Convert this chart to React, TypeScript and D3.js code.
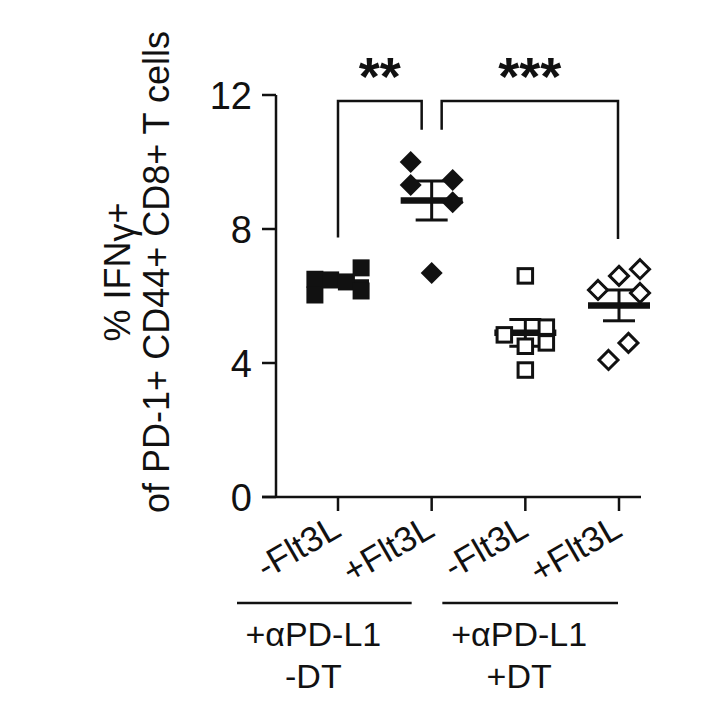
import React from "react";
import * as d3 from "d3";

// ---- data ----
const categories = ["-Flt3L a", "+Flt3L a", "-Flt3L b", "+Flt3L b"];
const tickLabels = ["-Flt3L", "+Flt3L", "-Flt3L", "+Flt3L"];
const g1Values = [6.5, 6.03, 6.48, 6.42, 6.84, 6.15];
const g2Values = [10.0, 9.31, 9.46, 8.8, 6.69];
const g3Values = [6.6, 4.84, 5.07, 4.6, 4.5, 3.79];
const g4Values = [6.18, 6.6, 6.8, 6.09, 4.6, 4.09];
const g1Slots = [-1.1, -1.1, -0.35, 0.4, 1.1, 1.1];
const g2Slots = [-1, -1, 1, 1, 0];
const g3Slots = [0, -1, 1, 1, 0, 0];
const g4Slots = [-1, 0, 1, 1, 0.45, -0.5];
const means = [6.4, 8.85, 4.9, 5.72];
const sems = [0.12, 0.58, 0.4, 0.46];
const yTicks = [0, 4, 8, 12];
const groupLabelsTop = ["+\u03B1PD-L1", "+\u03B1PD-L1"];
const groupLabelsBottom = ["-DT", "+DT"];
const sigLabels = ["**", "***"];
const sigBar = [11.82, 11.82];
const sigLegLeft = [7.75, 10.96];
const sigLegRight = [10.96, 7.7];
const gamma = "\u03B3";

const FONT = "'Liberation Sans', Arial, Helvetica, sans-serif";

export default function App() {
  const W = 717, H = 720;
  const y = d3.scaleLinear().domain([0, 12]).range([497, 95]);
  const x = d3.scalePoint<string>().domain(categories).range([338, 619]);
  const axisX = 276;
  const slotW = 21;

  const groups = [
    { values: g1Values, slots: g1Slots, shape: "square", filled: true },
    { values: g2Values, slots: g2Slots, shape: "diamond", filled: true },
    { values: g3Values, slots: g3Slots, shape: "square", filled: false },
    { values: g4Values, slots: g4Slots, shape: "diamond", filled: false },
  ];

  const marker = (shape: string, filled: boolean, cx: number, cy: number, key: string) => {
    if (shape === "square") {
      const s = filled ? 17 : 14.5;
      return (
        <rect key={key} x={cx - s / 2} y={cy - s / 2} width={s} height={s}
          fill={filled ? "#111" : "#fff"} stroke={filled ? "none" : "#111"} strokeWidth={3} />
      );
    }
    const r = filled ? 11 : 9.5;
    const pts = [[cx, cy - r], [cx + r, cy], [cx, cy + r], [cx - r, cy]].map(p => p.join(",")).join(" ");
    return (
      <polygon key={key} points={pts} fill={filled ? "#111" : "#fff"}
        stroke={filled ? "none" : "#111"} strokeWidth={3} strokeLinejoin="miter" />
    );
  };

  const cats = categories;
  const brackets = [
    { x1: x(cats[0])!, x2: x(cats[1])! - 10 },
    { x1: x(cats[1])! + 10, x2: x(cats[3])! - 1 },
  ];
  const pairLines = [
    { x1: x(cats[0])! - 101, x2: x(cats[1])! - 20 },
    { x1: x(cats[2])! - 83, x2: x(cats[3])! - 1 },
  ];

  return (
    <svg width={W} height={H} viewBox={`0 0 ${W} ${H}`}
      style={{ position: "absolute", left: 0, top: 0, background: "#fff" }}
      fontFamily={FONT}>
      <rect width={W} height={H} fill="#fff" />
      {/* y axis */}
      <line x1={axisX} x2={axisX} y1={y(12)} y2={y(0)} stroke="#111" strokeWidth={2.5} />
      {yTicks.map(t => (
        <g key={t}>
          <line x1={axisX - 14} x2={axisX} y1={y(t)} y2={y(t)} stroke="#111" strokeWidth={2.5} />
          <text x={252} y={y(t)} dy="0.36em" textAnchor="end" fontSize={38} fill="#111">{t}</text>
        </g>
      ))}
      {/* x axis */}
      <line x1={axisX - 14} x2={641} y1={y(0)} y2={y(0)} stroke="#111" strokeWidth={2.5} />
      {cats.map((c, i) => (
        <g key={c}>
          <line x1={x(c)!} x2={x(c)!} y1={y(0)} y2={y(0) + 14} stroke="#111" strokeWidth={2.5} />
          <text transform={`translate(${x(c)! + 5},${y(0) + 38}) rotate(-30)`} textAnchor="end"
            fontSize={35} fill="#111">{tickLabels[i]}</text>
        </g>
      ))}
      {/* y title */}
      <text transform={`translate(130,272) rotate(-90)`} textAnchor="middle" fontSize={36} fill="#111">
        % IFN<tspan dy="4">{gamma}</tspan><tspan dy="-4">+</tspan>
      </text>
      <text transform={`translate(169,272) rotate(-90)`} textAnchor="middle" fontSize={36} fill="#111">
        of PD-1+ CD44+ CD8+ T cells
      </text>
      {/* mean & sem */}
      {groups.map((g, i) => {
        const cx = x(cats[i])!;
        return (
          <g key={"m" + i}>
            <line x1={cx} x2={cx} y1={y(means[i] + sems[i])} y2={y(means[i] - sems[i])} stroke="#111" strokeWidth={3} />
            <line x1={cx - 16} x2={cx + 16} y1={y(means[i] + sems[i])} y2={y(means[i] + sems[i])} stroke="#111" strokeWidth={3} />
            <line x1={cx - 16} x2={cx + 16} y1={y(means[i] - sems[i])} y2={y(means[i] - sems[i])} stroke="#111" strokeWidth={3} />
            <line x1={cx - 31} x2={cx + 31} y1={y(means[i])} y2={y(means[i])} stroke="#111" strokeWidth={6.5} />
          </g>
        );
      })}
      {/* points */}
      {groups.map((g, i) => {
        const cx = x(cats[i])!;
        return (
          <g key={"p" + i}>
            {g.values.map((v, j) => marker(g.shape, g.filled, cx + g.slots[j] * slotW, y(v), `${i}-${j}`))}
          </g>
        );
      })}
      {/* significance */}
      {brackets.map((b, i) => (
        <g key={"s" + i}>
          <path d={`M${b.x1},${y(sigLegLeft[i])} V${y(sigBar[i])} H${b.x2} V${y(sigLegRight[i])}`}
            fill="none" stroke="#111" strokeWidth={2.5} />
          <text x={(b.x1 + b.x2) / 2} y={95} textAnchor="middle" fontSize={54} fontWeight="bold" fill="#111">
            {sigLabels[i]}
          </text>
        </g>
      ))}
      {/* group lines and labels */}
      {pairLines.map((p, i) => (
        <g key={"gl" + i}>
          <line x1={p.x1} x2={p.x2} y1={603} y2={603} stroke="#111" strokeWidth={2.5} />
          <text x={(p.x1 + p.x2) / 2 - 11} y={646} textAnchor="middle" fontSize={34} fill="#111">{groupLabelsTop[i]}</text>
          <text x={(p.x1 + p.x2) / 2 - 11} y={688} textAnchor="middle" fontSize={34} fill="#111">{groupLabelsBottom[i]}</text>
        </g>
      ))}
    </svg>
  );
}
